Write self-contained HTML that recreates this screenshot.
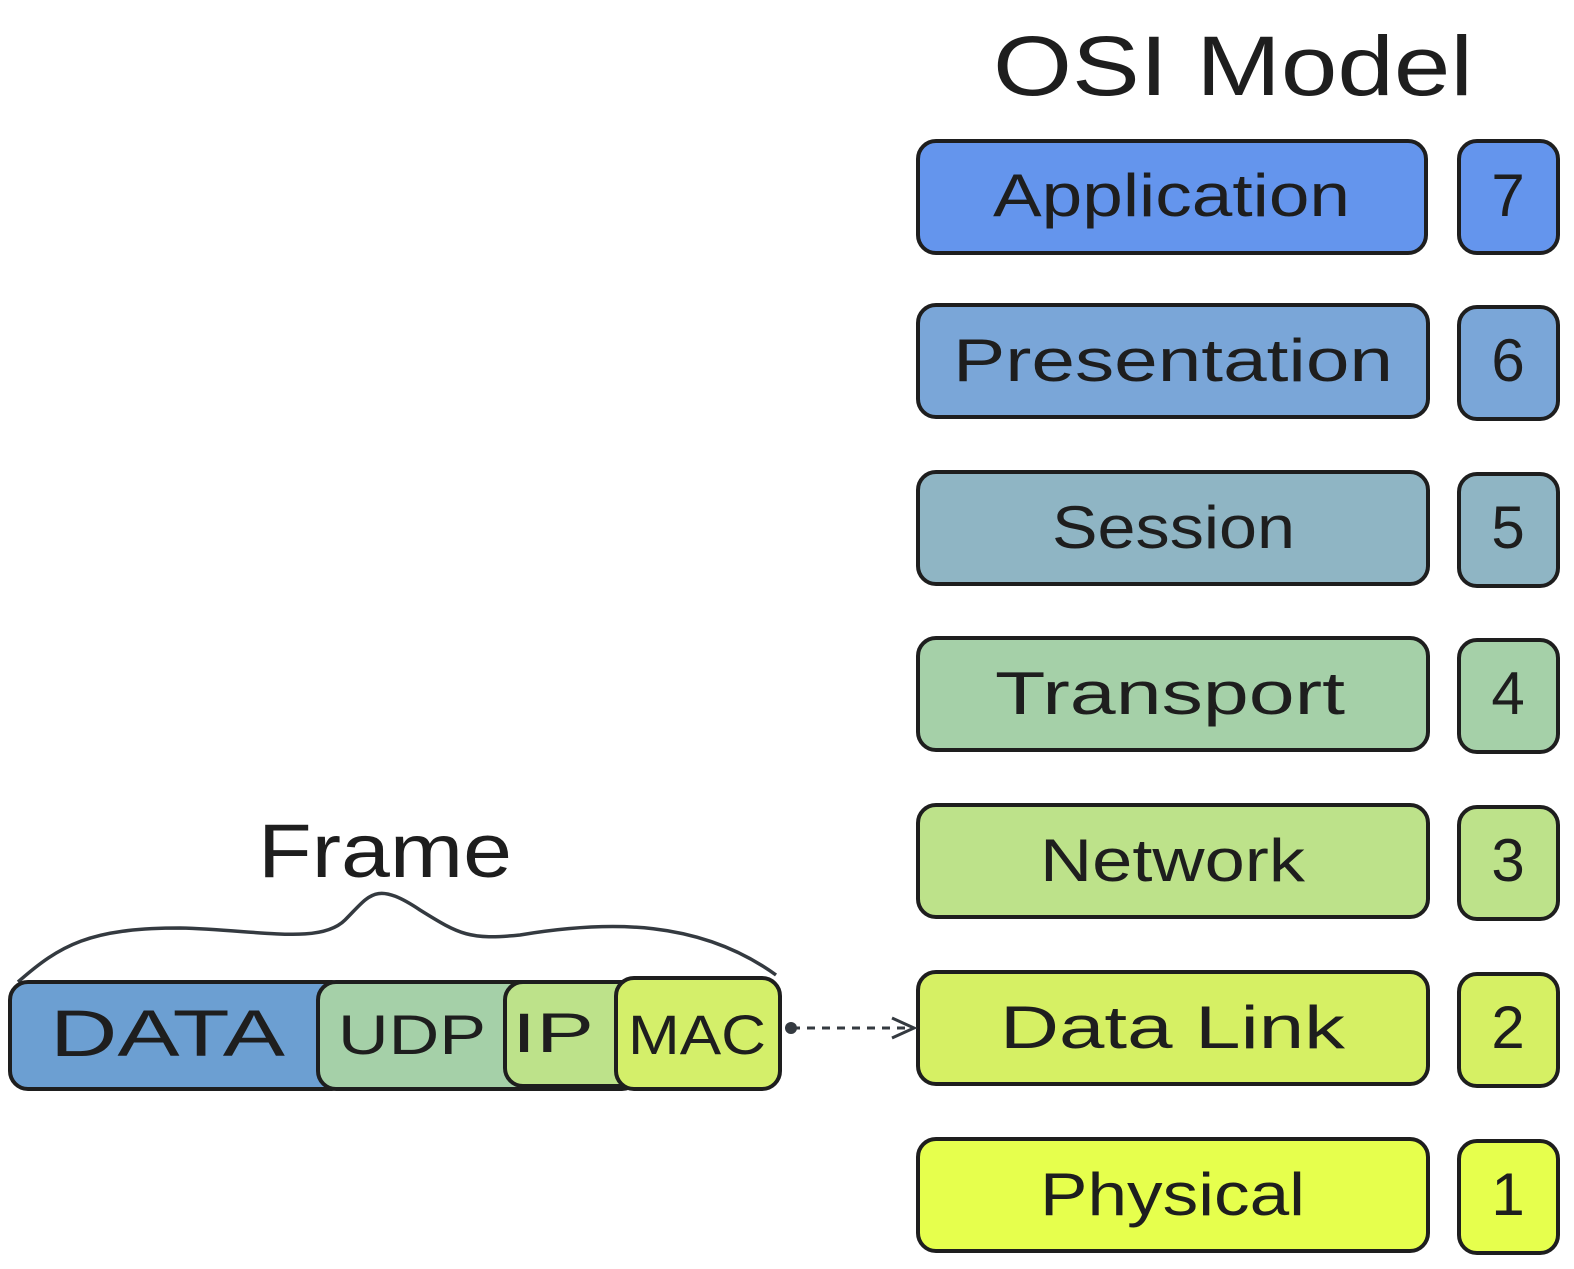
<!DOCTYPE html>
<html><head><style>body{margin:0;background:#fff}svg{display:block}text{font-family:"Liberation Sans",sans-serif;fill:#1e1e1e}</style></head><body>
<svg width="1574" height="1269" viewBox="0 0 1574 1269">
<g stroke="#1e1e1e" stroke-width="4">
<text x="993" y="95" font-size="84" textLength="480" lengthAdjust="spacingAndGlyphs" stroke="none" fill="#343a40">OSI Model</text>
<rect x="918" y="141" width="508" height="112" rx="18" fill="#6495ed"/>
<rect x="1459" y="141" width="99" height="112" rx="18" fill="#6495ed"/>
<rect x="918" y="305" width="510" height="112" rx="18" fill="#7aa6d8"/>
<rect x="1459" y="307" width="99" height="112" rx="18" fill="#7aa6d8"/>
<rect x="918" y="472" width="510" height="112" rx="18" fill="#8fb5c4"/>
<rect x="1459" y="474" width="99" height="112" rx="18" fill="#8fb5c4"/>
<rect x="918" y="638" width="510" height="112" rx="18" fill="#a5d0a8"/>
<rect x="1459" y="640" width="99" height="112" rx="18" fill="#a5d0a8"/>
<rect x="918" y="805" width="510" height="112" rx="18" fill="#bde28a"/>
<rect x="1459" y="807" width="99" height="112" rx="18" fill="#bde28a"/>
<rect x="918" y="972" width="510" height="112" rx="18" fill="#d6f064"/>
<rect x="1459" y="974" width="99" height="112" rx="18" fill="#d6f064"/>
<rect x="918" y="1139" width="510" height="112" rx="18" fill="#e6ff4d"/>
<rect x="1459" y="1141" width="99" height="112" rx="18" fill="#e6ff4d"/>
<path d="M18 982 C60 945 90 928 180 928 C260 930 320 945 345 920 C370 895 375 880 420 910 C460 935 470 940 520 935 C610 920 700 920 776 975" fill="none" stroke="#343a40" stroke-width="3.5"/>
<rect x="10" y="982" width="340" height="107" rx="18" fill="#6c9fd2"/>
<rect x="318" y="982" width="322" height="107" rx="18" fill="#a5d0a8"/>
<rect x="505" y="982" width="135" height="104" rx="18" fill="#bde28a"/>
<rect x="616" y="978" width="164" height="111" rx="18" fill="#d4ef6a"/>
<line x1="792" y1="1028" x2="912" y2="1028" stroke-dasharray="8 7" stroke-width="3" stroke="#343a40"/>
<circle cx="791" cy="1028" r="6" fill="#343a40" stroke="none"/>
<path d="M892 1018 L914 1028 L892 1038" fill="none" stroke="#343a40" stroke-width="3"/>
</g>
<g font-size="60" lengthAdjust="spacingAndGlyphs">
<text x="993" y="216" textLength="357" lengthAdjust="spacingAndGlyphs">Application</text><text x="1508" y="216" text-anchor="middle">7</text>
<text x="953" y="381" textLength="440" lengthAdjust="spacingAndGlyphs">Presentation</text><text x="1508" y="381" text-anchor="middle">6</text>
<text x="1052" y="548" textLength="243" lengthAdjust="spacingAndGlyphs">Session</text><text x="1508" y="548" text-anchor="middle">5</text>
<text x="995" y="714" textLength="350" lengthAdjust="spacingAndGlyphs">Transport</text><text x="1508" y="714" text-anchor="middle">4</text>
<text x="1040" y="881" textLength="265" lengthAdjust="spacingAndGlyphs">Network</text><text x="1508" y="881" text-anchor="middle">3</text>
<text x="1000" y="1048" textLength="345" lengthAdjust="spacingAndGlyphs">Data Link</text><text x="1508" y="1048" text-anchor="middle">2</text>
<text x="1040" y="1215" textLength="265" lengthAdjust="spacingAndGlyphs">Physical</text><text x="1508" y="1215" text-anchor="middle">1</text>
<text x="258" y="877" font-size="76" fill="#343a40" textLength="254" lengthAdjust="spacingAndGlyphs">Frame</text>
<text x="50" y="1056" font-size="66" fill="#343a40" textLength="235" lengthAdjust="spacingAndGlyphs">DATA</text>
<text x="338" y="1054" font-size="56" textLength="148" lengthAdjust="spacingAndGlyphs">UDP</text>
<text x="512" y="1052" font-size="56" textLength="82" lengthAdjust="spacingAndGlyphs">IP</text>
<text x="628" y="1054" font-size="56" textLength="138" lengthAdjust="spacingAndGlyphs">MAC</text>
</g>
</svg>
</body></html>
